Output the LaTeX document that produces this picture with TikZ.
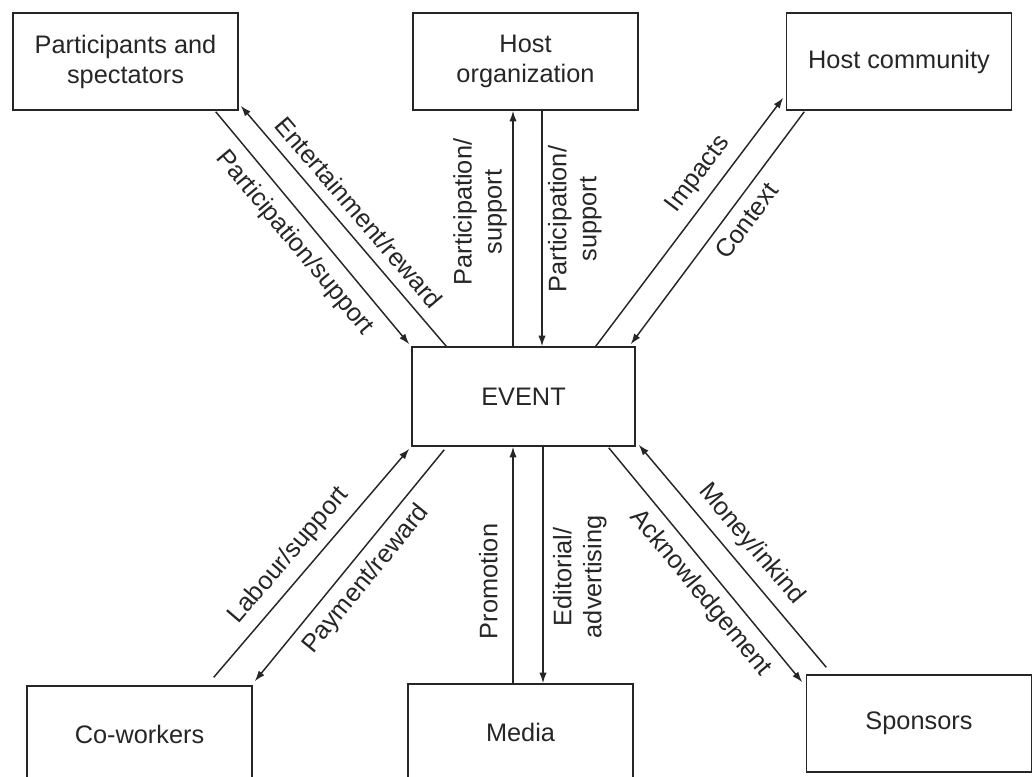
\documentclass[tikz,border=0pt]{standalone}
\usepackage{fontspec}
\setmainfont{Liberation Sans}
\usetikzlibrary{calc,arrows.meta}

\tikzset{
  box/.style={draw, minimum width=168.75pt, minimum height=72.75pt, align=center, inner sep=2pt},
  lbl/.style={midway, sloped, inner sep=1pt, align=center},
}

\begin{document}
\begin{tikzpicture}[x=0.75pt,y=-0.75pt, line width=1.1pt, color=black!85, >={Latex[length=8pt,width=5.5pt]}, every node/.style={font=\fontsize{19}{22.5}\selectfont}]
\useasboundingbox (0,0) rectangle (1032,776);

% Boxes
\node [box] (part) at (125.5,61.5) {Participants and\\spectators};
\node [box] (hostorg) at (525.5,61.5) {Host\\organization};
\node [box] (hostcom) at (899,61.5) {Host community};
\node [box, minimum width=167.25pt, minimum height=74.25pt] (event) at (523.5,396.5) {EVENT};
\node [box] (cowork) at (139.5,734.5) {Co-workers};
\node [box] (media) at (520.5,732.5) {Media};
\node [box] (spons) at (919,723.5) {Sponsors};

% Participants and spectators
\draw [->] ($(part.south east)+(-23,1)$) -- ($(event.north west)+(-2,-2)$) node [lbl, below=7pt] {Participation/support};
\draw [<-] ($(part.south east)+(2,-5)$) -- ($(event.north west)+(35,0)$) node [lbl, above=7pt] {Entertainment/reward};

% Host organization
\coordinate (ho1) at ($(hostorg.south)+(-12.5,0)$);
\coordinate (ho2) at ($(hostorg.south)+(16.5,0)$);
\draw [->] (event.north -| ho1) -- (ho1) node [lbl, pos=0.57, above=3pt] {Participation/\\support};
\draw [<-] (event.north -| ho2) -- (ho2) node [lbl, pos=0.54, below=3pt] {Participation/\\support};

% Host community
\draw [->] ($(event.north east)+(-40,0)$) -- ($(hostcom.south west)+(-2.5,-13)$) node [lbl, pos=0.64, above=6pt] {Impacts};
\draw [<-] ($(event.north east)+(-5,-2)$) -- ($(hostcom.south west)+(18.5,1)$) node [lbl, pos=0.58, below=6pt] {Context};

% Co-workers
\draw [->] ($(cowork.north east)+(-39,-8)$) -- ($(event.south west)+(-2,2)$) node [lbl, pos=0.47, above=6pt] {Labour/support};
\draw [<-] ($(cowork.north east)+(2,-4)$) -- ($(event.south west)+(33,3)$) node [lbl, pos=0.5, below=6pt] {Payment/reward};

% Media
\coordinate (me1) at ($(media.north)+(-7.5,0)$);
\coordinate (me2) at ($(media.north)+(22.5,0)$);
\draw [->] (me1) -- (event.south -| me1) node [lbl, pos=0.43, above=10pt] {Promotion};
\draw [<-] (me2) -- (event.south -| me2) node [lbl, pos=0.45, below=6pt] {Editorial/\\advertising};

% Sponsors
\draw [<-] ($(event.south east)+(3,-2)$) -- ($(spons.north west)+(20.5,-7)$) node [lbl, pos=0.51, above=6pt] {Money/inkind};
\draw [->] ($(event.south east)+(-27,1)$) -- ($(spons.north west)+(-3.5,8)$) node [lbl, pos=0.56, below=6pt] {Acknowledgement};

\end{tikzpicture}
\end{document}
